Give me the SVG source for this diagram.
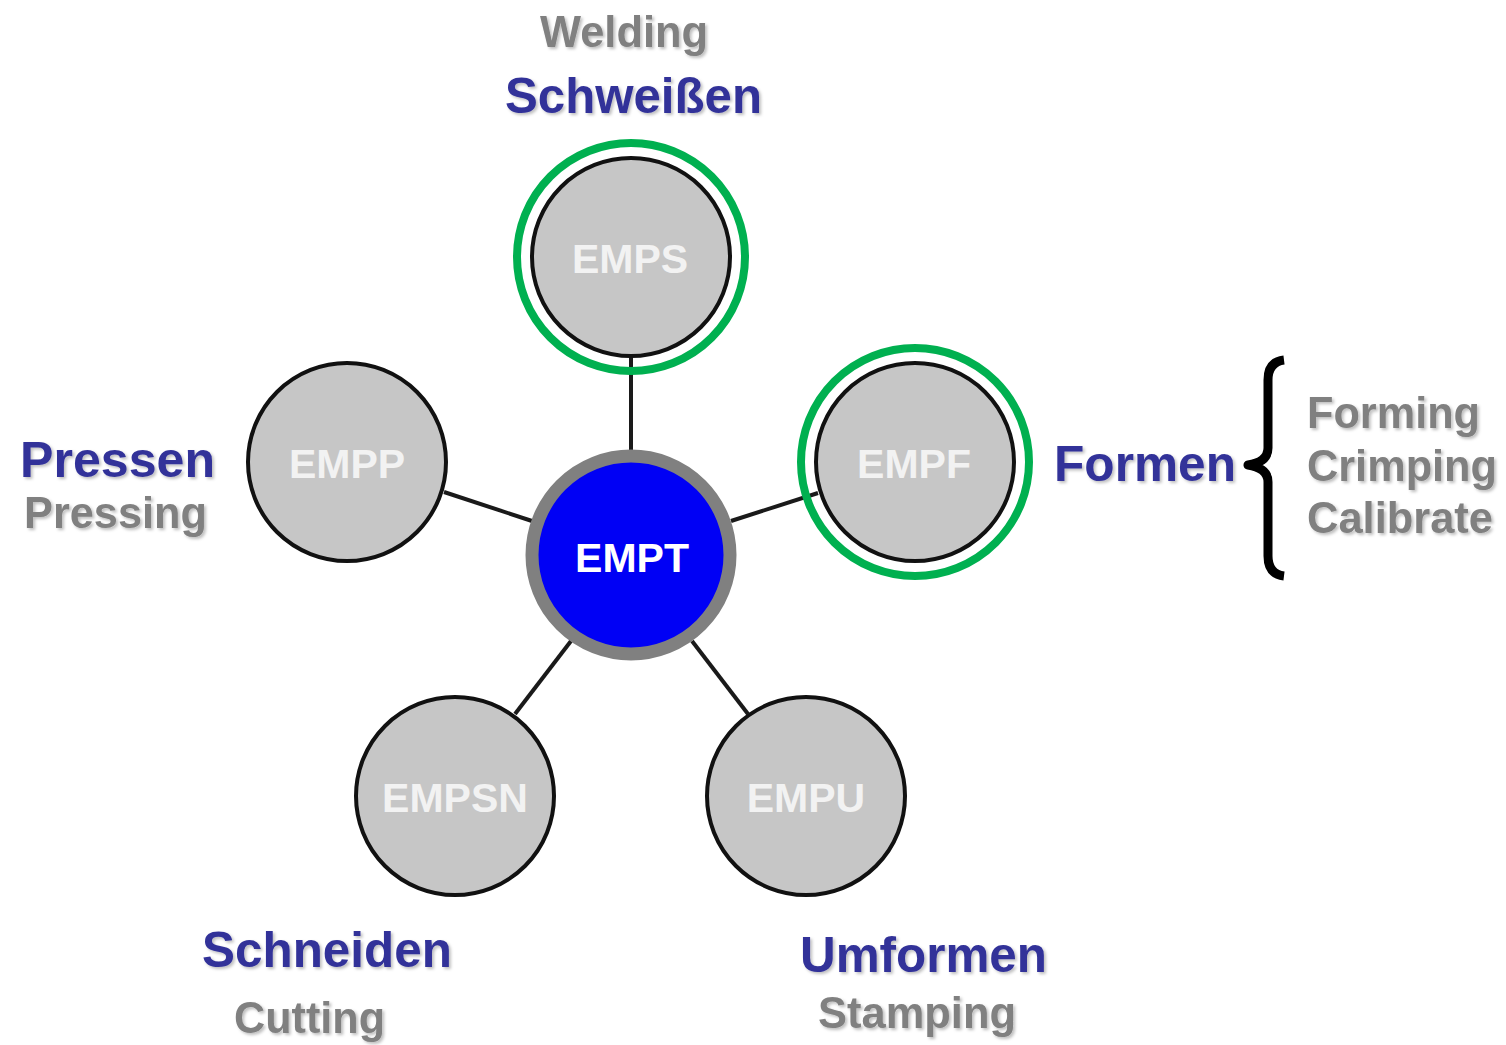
<svg xmlns="http://www.w3.org/2000/svg" width="1506" height="1045" viewBox="0 0 1506 1045">
<defs>
<filter id="sh" x="-10%" y="-20%" width="130%" height="150%">
<feDropShadow dx="2" dy="2" stdDeviation="1.5" flood-color="#000" flood-opacity="0.25"/>
</filter>
<style>
.node{fill:#c6c6c6;stroke:#111;stroke-width:4}
.ring{fill:none;stroke:#00b050;stroke-width:8}
.conn{stroke:#1a1a1a;stroke-width:4;fill:none}
.nl{font-family:"Liberation Sans",Arial,sans-serif;font-weight:bold;font-size:41px;fill:#f2f2f2;text-anchor:middle}
.de{font-family:"Liberation Sans",Arial,sans-serif;font-weight:bold;font-size:50px;fill:#333399;filter:url(#sh)}
.en{font-family:"Liberation Sans",Arial,sans-serif;font-weight:bold;font-size:44px;fill:#808080;filter:url(#sh)}
</style>
</defs>
<rect width="1506" height="1045" fill="#fff"/>
<g id="connectors">
<line class="conn" x1="631" y1="356" x2="631" y2="452"/>
<line class="conn" x1="444" y1="492" x2="532" y2="521"/>
<line class="conn" x1="731" y1="521" x2="818" y2="493"/>
<line class="conn" x1="515" y1="714" x2="571" y2="641"/>
<line class="conn" x1="692" y1="641" x2="748" y2="714"/>
</g>
<g id="EMPS">
<circle class="ring" cx="631" cy="257" r="114"/>
<circle class="node" cx="631" cy="257" r="99"/>
<text class="nl" x="630" y="273">EMPS</text>
</g>
<g id="EMPP">
<circle class="node" cx="347" cy="462" r="99"/>
<text class="nl" x="347" y="478">EMPP</text>
</g>
<g id="EMPF">
<circle class="ring" cx="915" cy="462" r="114"/>
<circle class="node" cx="915" cy="462" r="99"/>
<text class="nl" x="914" y="478">EMPF</text>
</g>
<g id="EMPT">
<circle cx="631" cy="555" r="99" fill="#0000f5" stroke="#808080" stroke-width="13"/>
<text class="nl" x="632" y="572" style="fill:#fff">EMPT</text>
</g>
<g id="EMPSN">
<circle class="node" cx="455" cy="796" r="99"/>
<text class="nl" x="455" y="812">EMPSN</text>
</g>
<g id="EMPU">
<circle class="node" cx="806" cy="796" r="99"/>
<text class="nl" x="806" y="812">EMPU</text>
</g>
<g id="labels">
<text class="en" x="540" y="47" textLength="168" lengthAdjust="spacingAndGlyphs">Welding</text>
<text class="de" x="505" y="113" textLength="257" lengthAdjust="spacingAndGlyphs">Schweißen</text>
<text class="de" x="20" y="477" textLength="195" lengthAdjust="spacingAndGlyphs">Pressen</text>
<text class="en" x="24" y="528" textLength="183" lengthAdjust="spacingAndGlyphs">Pressing</text>
<text class="de" x="1054" y="481" textLength="182" lengthAdjust="spacingAndGlyphs">Formen</text>
<text class="en" x="1307" y="428" textLength="173" lengthAdjust="spacingAndGlyphs">Forming</text>
<text class="en" x="1307" y="481" textLength="190" lengthAdjust="spacingAndGlyphs">Crimping</text>
<text class="en" x="1307" y="533" textLength="186" lengthAdjust="spacingAndGlyphs">Calibrate</text>
<text class="de" x="202" y="967" textLength="250" lengthAdjust="spacingAndGlyphs">Schneiden</text>
<text class="en" x="234" y="1033" textLength="151" lengthAdjust="spacingAndGlyphs">Cutting</text>
<text class="de" x="800" y="972" textLength="247" lengthAdjust="spacingAndGlyphs">Umformen</text>
<text class="en" x="818" y="1028" textLength="198" lengthAdjust="spacingAndGlyphs">Stamping</text>
</g>
<g id="brace">
<path d="M1284 360 Q1268 362 1268 380 L1268 448 Q1268 462 1248 465 Q1268 468 1268 482 L1268 556 Q1268 574 1284 576" fill="none" stroke="#000" stroke-width="9" stroke-linejoin="round"/>
</g>
</svg>
